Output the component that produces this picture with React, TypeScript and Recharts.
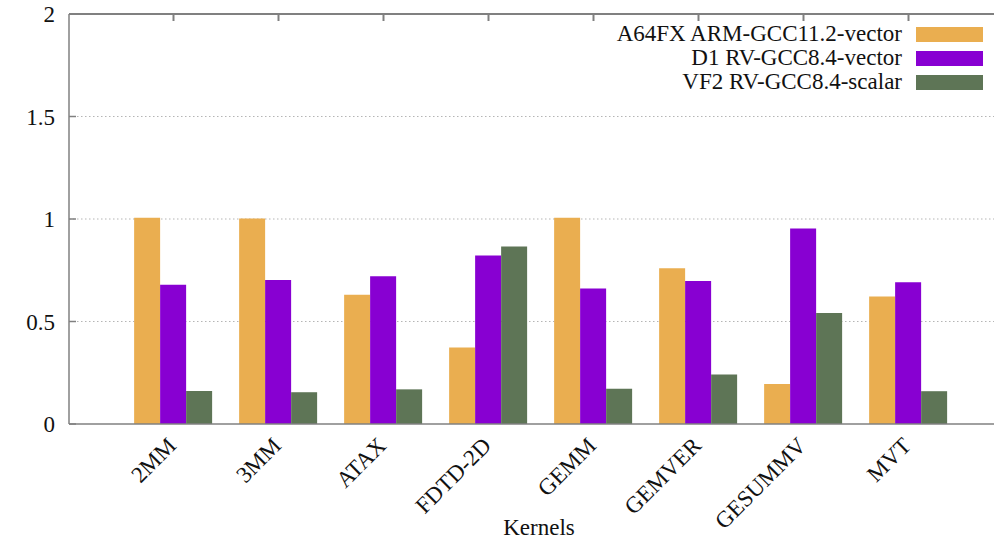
import React from 'react';
import { BarChart, Bar, XAxis, YAxis, CartesianGrid, Legend, Label, ReferenceLine } from 'recharts';

const kernels = ['2MM', '3MM', 'ATAX', 'FDTD-2D', 'GEMM', 'GEMVER', 'GESUMMV', 'MVT'];
const a64fxVector = [1.006, 1.003, 0.63, 0.373, 1.006, 0.76, 0.195, 0.622];
const d1Vector = [0.679, 0.703, 0.721, 0.822, 0.661, 0.697, 0.954, 0.692];
const vf2Scalar = [0.161, 0.155, 0.169, 0.866, 0.172, 0.241, 0.542, 0.16];
const yTicks = [0, 0.5, 1, 1.5, 2];
const gridTicks = [0.5, 1, 1.5];

const SERIES = [
  { key: 'a64fx', name: 'A64FX ARM-GCC11.2-vector', color: '#EAAE50' },
  { key: 'd1', name: 'D1 RV-GCC8.4-vector', color: '#8800D2' },
  { key: 'vf2', name: 'VF2 RV-GCC8.4-scalar', color: '#5E7556' },
];

const data = kernels.map((k, i) => ({
  kernel: k,
  a64fx: a64fxVector[i],
  d1: d1Vector[i],
  vf2: vf2Scalar[i],
}));

const FONT = '"Liberation Serif", "Times New Roman", serif';
const AXIS = '#808080';

const KernelTick = ({ x, y, payload }: any) => {
  const tx = x + 4;
  const ty = y + 23;
  return (
    <text
      x={tx}
      y={ty}
      transform={`rotate(-45 ${tx} ${ty})`}
      textAnchor="end"
      fontFamily={FONT}
      fontSize={23}
      fill="#111"
    >
      {payload.value}
    </text>
  );
};

const ValueTick = ({ x, y, payload }: any) => (
  <g>
    <text x={x - 14} y={y} dy="0.35em" textAnchor="end" fontFamily={FONT} fontSize={23} fill="#111">
      {String(payload.value)}
    </text>
    <line x1={x} x2={x + 7} y1={y} y2={y} stroke={AXIS} strokeWidth={1.5} />
  </g>
);

// inward tick on the top border, drawn at each category position
const TopTick = ({ viewBox }: any) => (
  <line
    x1={viewBox.x}
    x2={viewBox.x}
    y1={viewBox.y}
    y2={viewBox.y + 7}
    stroke={AXIS}
    strokeWidth={2}
  />
);

const AxisTitle = ({ viewBox }: any) => (
  <text
    x={viewBox.x + viewBox.width / 2 - 2}
    y={viewBox.y + viewBox.height - 5}
    textAnchor="middle"
    fontFamily={FONT}
    fontSize={23}
    fill="#111"
    style={{ fontFamily: FONT }}
  >
    Kernels
  </text>
);

const renderLegend = () => (
  <div style={{ fontFamily: FONT, fontSize: 23, color: '#111' }}>
    {SERIES.map((s) => (
      <div
        key={s.key}
        style={{ display: 'flex', justifyContent: 'flex-end', alignItems: 'center', height: 24.2 }}
      >
        <span style={{ marginRight: 14, whiteSpace: 'nowrap' }}>{s.name}</span>
        <span style={{ width: 67, height: 15, background: s.color, display: 'inline-block' }} />
      </div>
    ))}
  </div>
);

export default function App() {
  return (
    <div
      style={{
        position: 'fixed',
        left: 0,
        top: 0,
        width: 994,
        height: 540,
        overflow: 'hidden',
        background: '#fff',
      }}
    >
      <BarChart
        width={1030}
        height={540}
        data={data}
        margin={{ top: 14, right: 17, left: 0, bottom: 0 }}
        barCategoryGap="12.5%"
        barGap={0}
      >
        <CartesianGrid
          horizontal
          vertical={false}
          stroke="#b5b5b5"
          strokeDasharray="1.5 2.5"
          syncWithTicks={false}
          horizontalValues={gridTicks}
        />
        <XAxis
          dataKey="kernel"
          height={116}
          padding={{ left: 52, right: 52 }}
          axisLine={{ stroke: AXIS, strokeWidth: 1.5 }}
          tickLine={false}
          tickSize={0}
          tickMargin={0}
          interval={0}
          tick={<KernelTick />}
        >
          <Label content={<AxisTitle />} />
        </XAxis>
        <YAxis
          width={69}
          domain={[0, 2]}
          ticks={yTicks}
          interval={0}
          axisLine={{ stroke: AXIS, strokeWidth: 1.5 }}
          tickLine={false}
          tickSize={0}
          tickMargin={0}
          tick={<ValueTick />}
        />
        <ReferenceLine y={2} stroke={AXIS} strokeWidth={2} />
        {kernels.map((k) => (
          <ReferenceLine key={k} x={k} stroke="none" label={<TopTick />} />
        ))}
        <Legend
          layout="vertical"
          align="center"
          verticalAlign="middle"
          content={renderLegend}
          wrapperStyle={{ left: 600, top: 22, width: 383, height: 'auto' }}
        />
        {SERIES.map((s) => (
          <Bar key={s.key} dataKey={s.key} name={s.name} fill={s.color} isAnimationActive={false} />
        ))}
      </BarChart>
    </div>
  );
}
